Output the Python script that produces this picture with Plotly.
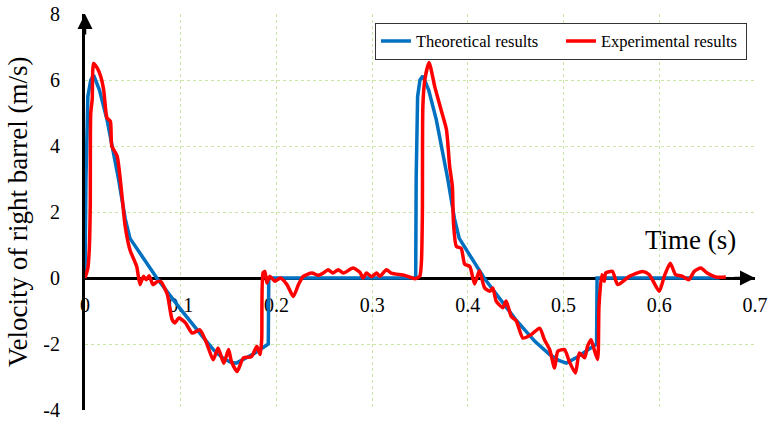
import plotly.graph_objects as go

# ---------------- data ----------------
theo_t = [0, 0.001, 0.003, 0.006, 0.009, 0.015, 0.023, 0.035, 0.042, 0.047,
          0.075, 0.100, 0.125, 0.135, 0.145, 0.152, 0.158, 0.165, 0.175, 0.1915, 0.192,
          0.3455, 0.346, 0.3475, 0.350, 0.353, 0.359, 0.367, 0.379, 0.386, 0.391,
          0.417, 0.440, 0.450, 0.470, 0.4855, 0.495, 0.503, 0.513, 0.5345, 0.535, 0.663]
theo_v = [0, 3.0, 5.5, 6.0, 6.15, 5.7, 4.8, 3.0, 1.8, 1.2,
          0, -0.95, -1.85, -2.2, -2.45, -2.55, -2.58, -2.48, -2.32, -2.0, 0,
          0, 3.0, 5.5, 6.0, 6.12, 5.7, 4.8, 3.0, 1.8, 1.2,
          0, -0.85, -1.26, -1.92, -2.32, -2.5, -2.58, -2.42, -2.0, 0, 0]

exp_t = [0.000, 0.003, 0.0045, 0.0055, 0.006, 0.0075, 0.009, 0.013, 0.0165, 0.0195,
         0.023, 0.0265, 0.028, 0.0335, 0.0387, 0.042, 0.047, 0.054, 0.0575, 0.061,
         0.064, 0.067, 0.071, 0.075, 0.079, 0.086, 0.091, 0.094, 0.098, 0.105,
         0.112, 0.120, 0.127, 0.134, 0.139, 0.145, 0.150, 0.153, 0.159, 0.1655,
         0.174, 0.1795, 0.183, 0.1846, 0.186, 0.188, 0.190, 0.193, 0.1985, 0.204,
         0.211, 0.2176, 0.223, 0.228, 0.237, 0.244, 0.249, 0.254, 0.259, 0.2646,
         0.270, 0.280, 0.287, 0.2906, 0.294, 0.2994, 0.3046, 0.308, 0.315, 0.320,
         0.334, 0.3445, 0.3497, 0.3515, 0.3525, 0.353, 0.355, 0.3595, 0.3654, 0.372,
         0.3776, 0.381, 0.3838, 0.385, 0.388, 0.393, 0.3967, 0.402, 0.407, 0.412,
         0.4175, 0.423, 0.426, 0.4296, 0.4366, 0.440, 0.4453, 0.4506, 0.4575, 0.466,
         0.475, 0.480, 0.4855, 0.4906, 0.494, 0.501, 0.506, 0.5124, 0.5165, 0.522,
         0.525, 0.5287, 0.532, 0.5356, 0.537, 0.540, 0.5425, 0.544, 0.551, 0.5565,
         0.5687, 0.5826, 0.5896, 0.600, 0.6052, 0.6115, 0.617, 0.6243, 0.631, 0.6365,
         0.6435, 0.650, 0.659, 0.6695]
exp_v = [0.0, 0.3, 0.9, 2.2, 5.0, 5.4, 6.5, 6.35, 6.1, 5.7,
         4.85, 4.75, 4.0, 3.7, 2.47, 1.56, 0.85, 0.35, -0.2, 0.05,
         -0.05, 0.07, -0.2, -0.12, -0.1, -0.5, -1.26, -1.36, -1.21, -1.36,
         -1.67, -1.57, -1.97, -2.48, -2.12, -2.58, -2.17, -2.53, -2.83, -2.42,
         -2.38, -2.07, -2.32, -1.87, 0.15, 0.2, -0.15, 0.05, -0.1, 0.0,
         -0.2, -0.56, -0.2, 0.05, 0.15, 0.08, 0.15, 0.25, 0.15, 0.25,
         0.15, 0.3, 0.18, 0.0, 0.15, 0.04, 0.15, 0.05, 0.25, 0.15,
         0.08, -0.02, 0.05, 0.5, 2.0, 5.2, 6.0, 6.53, 5.8, 5.1,
         4.5, 3.38, 2.78, 1.67, 0.96, 0.9, 0.42, 0.35, -0.18, 0.22,
         -0.3, -0.4, -0.3, -0.7, -0.9, -0.7, -1.16, -1.3, -1.82, -1.72,
         -1.52, -1.87, -2.17, -2.73, -2.22, -2.17, -2.53, -2.88, -2.27, -2.42,
         -2.07, -1.87, -2.17, -2.47, -0.86, 0.1, -0.1, 0.15, 0.2, -0.2,
         0.05, 0.2, 0.1, -0.4, 0.05, 0.45, 0.1, 0.05, -0.05, 0.2,
         0.3, 0.15, 0.03, 0.03]

x_ticks = [0, 0.1, 0.2, 0.3, 0.4, 0.5, 0.6, 0.7]
x_labels = ["0", "0.1", "0.2", "0.3", "0.4", "0.5", "0.6", "0.7"]
y_ticks = [-4, -2, 0, 2, 4, 6, 8]
y_labels = ["-4", "-2", "0", "2", "4", "6", "8"]

FONT = "Liberation Serif"
GRID = "#C9E6A8"

fig = go.Figure()
fig.add_trace(go.Scatter(x=theo_t, y=theo_v, mode="lines", name="Theoretical results",
                         line=dict(color="#0070C0", width=3.5)))
fig.add_trace(go.Scatter(x=exp_t, y=exp_v, mode="lines", name="Experimental results",
                         line=dict(color="#FF0000", width=3.5, shape="spline", smoothing=0.6)))

fig.update_layout(
    width=771, height=422,
    margin=dict(l=85, r=16, t=14, b=12, autoexpand=False),
    paper_bgcolor="white", plot_bgcolor="white",
    font=dict(family=FONT, color="black"),
    showlegend=True,
    legend=dict(orientation="h", x=0.988, xanchor="right", y=0.978, yanchor="top",
                bgcolor="white", bordercolor="#333333", borderwidth=1,
                entrywidth=140, entrywidthmode="pixels",
                font=dict(family=FONT, size=16.5, color="black")),
    xaxis=dict(range=[0, 0.7], tickvals=x_ticks, ticktext=x_labels, automargin=False,
               showgrid=True, gridcolor=GRID, griddash="dot", gridwidth=1,
               zeroline=False, showline=True, linecolor="black", linewidth=3,
               anchor="free", position=1/3, ticks="", ticklabelstandoff=8,
               tickfont=dict(family=FONT, size=20, color="black"), layer="below traces"),
    yaxis=dict(range=[-4, 8], tickvals=y_ticks, ticktext=y_labels, automargin=False,
               showgrid=True, gridcolor=GRID, griddash="dot", gridwidth=1,
               zeroline=False, showline=True, linecolor="black", linewidth=3,
               ticks="", ticklabelstandoff=18,
               tickfont=dict(family=FONT, size=20, color="black"), layer="below traces"),
    annotations=[
        dict(x=0, y=8, xref="x", yref="y", ax=0, ay=22,
             text="", showarrow=True, arrowhead=2, arrowsize=1.2, arrowwidth=2.5, arrowcolor="black"),
        dict(x=0.7, y=0, xref="x", yref="y", ax=-22, ay=0,
             text="", showarrow=True, arrowhead=2, arrowsize=1.2, arrowwidth=2.5, arrowcolor="black"),
        dict(x=0.904, y=0.429, xref="paper", yref="paper", text="Time (s)", showarrow=False,
             font=dict(family=FONT, size=27, color="black"), xanchor="center", yanchor="middle"),
        dict(x=-0.1, y=0.5, xref="paper", yref="paper", text="Velocity of right barrel (m/s)",
             showarrow=False, textangle=-90,
             font=dict(family=FONT, size=27, color="black"), xanchor="center", yanchor="middle"),
    ],
)

# remove the default page margin so the 771x422 figure fills the window exactly
fig.write_html("out.html", config={"displayModeBar": False},
               post_script="document.body.style.margin='0px';")
